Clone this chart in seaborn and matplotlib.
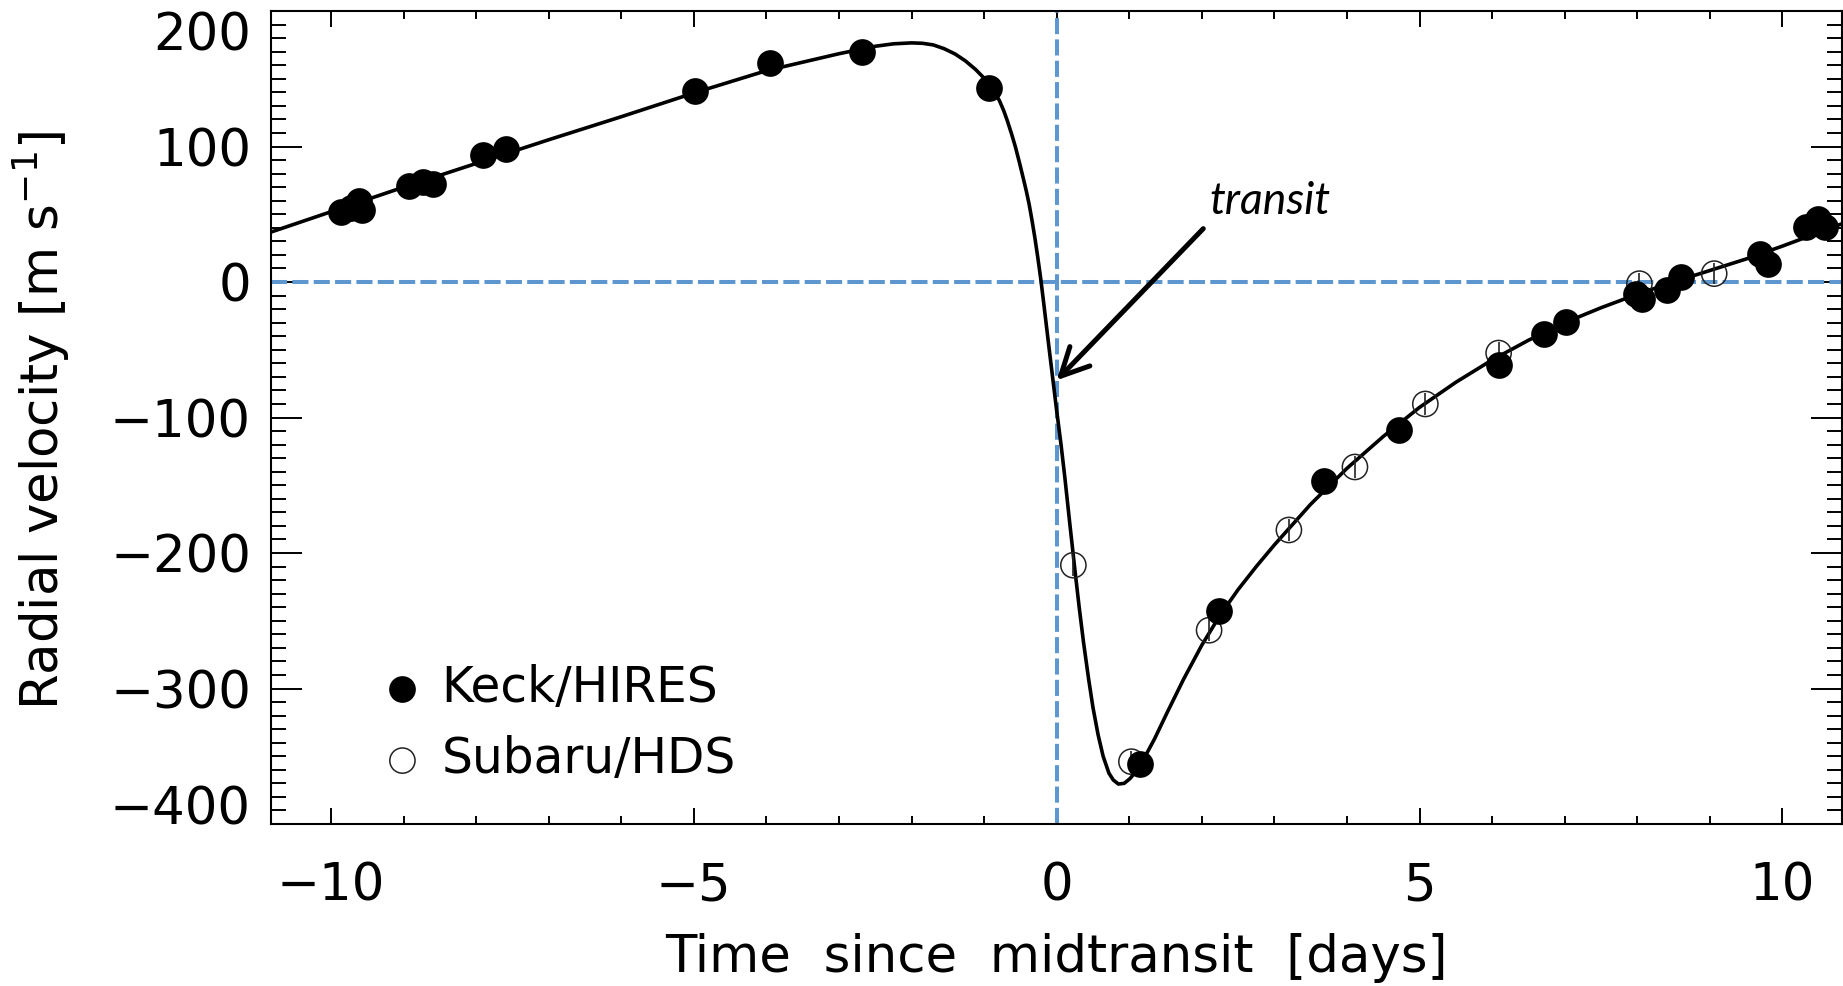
import matplotlib
matplotlib.use("Agg")
import matplotlib.pyplot as plt
from matplotlib.ticker import MultipleLocator
import seaborn as sns

# orbit model (days since midtransit, m/s)
model_t = [-10.82, -9.0, -7.0, -6.0, -5.0, -4.0, -3.0, -2.5, -2.25, -2.0, -1.85, -1.7,
           -1.55, -1.4, -1.26, -1.12, -1.0, -0.93, -0.86, -0.79, -0.73, -0.68, -0.62,
           -0.57, -0.51, -0.46, -0.42, -0.38, -0.34, -0.30, -0.26, -0.22, -0.18, -0.14,
           -0.10, -0.05, 0.0, 0.06, 0.114, 0.18, 0.25, 0.31, 0.37, 0.44, 0.50, 0.57,
           0.64, 0.72, 0.78, 0.85, 0.93, 1.01, 1.08, 1.15, 1.25, 1.35, 1.52, 1.75, 2.0,
           2.25, 2.5, 2.75, 3.0, 3.5, 4.0, 4.5, 5.0, 5.5, 6.0, 6.5, 7.0, 7.5, 8.0, 8.5,
           9.0, 9.5, 10.0, 10.5, 10.82]
model_rv = [37, 70, 105, 122, 139.5, 156, 168.5, 174, 175.8, 176.5, 176.2, 175,
            172.2, 168.3, 163.3, 157, 150.5, 145.5, 140, 134, 126.5, 119, 109,
            100, 87.5, 76.5, 67.5, 57.5, 45.5, 32.5, 18, 2.5, -15, -33,
            -51, -73, -95, -120, -145, -178, -212, -240, -266, -293, -314, -334,
            -350, -362.5, -367.5, -370.5, -370, -366.5, -362, -356, -347, -337, -318, -293, -268,
            -246, -227, -210, -194, -164, -137.5, -114, -92.5, -74, -57.5, -43, -30, -19, -9, 0,
            8.5, 17, 26.5, 36.5, 43]

# Keck/HIRES
keck_t = [-9.86, -9.72, -9.62, -9.57, -8.92, -8.73, -8.59, -7.91, -7.59, -4.99, -3.95,
          -2.68, -0.93, 1.15, 2.24, 3.68, 4.72, 6.09, 6.72, 7.02, 7.98, 8.06, 8.41, 8.60,
          9.69, 9.80, 10.32, 10.49, 10.59]
keck_rv = [52, 55, 60, 53, 70.6, 73.8, 72.6, 93.5, 98.4, 140.7, 161.6,
           169.7, 143.2, -356, -243, -147, -109.5, -61.5, -38.1, -29.5, -8.6, -12.3, -6.1, 3.7,
           21, 13.6, 40.6, 46.8, 40.6]

# Subaru/HDS
subaru_t = [0.23, 1.03, 2.10, 3.20, 4.11, 5.08, 6.09, 8.03, 9.06]
subaru_rv = [-209, -354, -257, -183, -136.5, -90, -52.4, -1.2, 6.2]
subaru_err = [8, 8, 8, 8, 8, 8, 8, 8, 8]

blue = "#5e97cf"

sns.set_theme(style="ticks")
plt.rcParams["font.family"] = ["DejaVu Sans"]
plt.rcParams["mathtext.fontset"] = "dejavusans"
plt.rcParams["text.color"] = "black"

fig = plt.figure(figsize=(18.43, 9.86), dpi=100)
ax = fig.add_axes([0.1473, 0.1643, 0.8521, 0.8245])

ax.axhline(0, color=blue, lw=2.9, dashes=(4, 1.3), zorder=2)
ax.axvline(0, color=blue, lw=2.9, dashes=(4, 1.3), zorder=2)

sns.lineplot(x=model_t, y=model_rv, ax=ax, color="black", lw=2.6,
             sort=False, estimator=None, legend=False, zorder=3)

ax.errorbar(subaru_t, subaru_rv, yerr=subaru_err, fmt="none", ecolor="#222222",
            elinewidth=1.2, capsize=0, zorder=4)
sns.scatterplot(x=subaru_t, y=subaru_rv, ax=ax, s=330, facecolor="none",
                edgecolor="#222222", linewidth=1.1, label="Subaru/HDS", zorder=5)
sns.scatterplot(x=keck_t, y=keck_rv, ax=ax, s=370, color="black",
                edgecolor="black", linewidth=0, label="Keck/HIRES", zorder=6)

ax.annotate("", xy=(0.0, -72.5), xytext=(2.02, 39.4),
            arrowprops=dict(arrowstyle="->,head_length=1.0,head_width=0.5",
                            color="black", lw=3.6, shrinkA=0, shrinkB=0,
                            mutation_scale=20), zorder=7)
ax.text(2.11, 50.5, "transit", fontsize=32, fontstyle="italic", color="black",
        family=["Lato", "DejaVu Sans"], ha="left", va="baseline")

ax.set_xlim(-10.82, 10.82)
ax.set_ylim(-400, 200)
ax.set_xticks([-10, -5, 0, 5, 10])
ax.xaxis.set_minor_locator(MultipleLocator(1))
ax.set_yticks([-400, -300, -200, -100, 0, 100, 200])
ax.yaxis.set_minor_locator(MultipleLocator(10))

ax.tick_params(which="both", direction="in", top=True, right=True,
               width=1.4, color="black", labelsize=37, labelcolor="black")
ax.tick_params(axis="x", which="major", length=11.5, pad=27)
ax.tick_params(axis="x", which="minor", length=5.8)
ax.tick_params(axis="y", which="major", length=22, pad=14.8)
ax.tick_params(axis="y", which="minor", length=11)
for s in ax.spines.values():
    s.set_color("black")
    s.set_linewidth(1.5)

yt = ax.yaxis.get_major_ticks()
yt[-1].label1.set_verticalalignment("top")
yt[0].label1.set_verticalalignment("baseline")

ax.set_xlabel("Time  since  midtransit  [days]", fontsize=37, color="black")
ax.set_ylabel(r"Radial velocity [m s$^{-1}$]", fontsize=37, color="black")
ax.xaxis.label.set_verticalalignment("baseline")
ax.yaxis.label.set_verticalalignment("baseline")
ax.xaxis.set_label_coords(0.5, -0.1817)
ax.yaxis.set_label_coords(-0.1351, 0.496)

h, l = ax.get_legend_handles_labels()
order = [l.index("Keck/HIRES"), l.index("Subaru/HDS")]
leg = ax.legend([h[i] for i in order], [l[i] for i in order], loc="lower left",
                bbox_to_anchor=(0.071, 0.05), frameon=False, fontsize=35,
                handletextpad=0.4, handlelength=0.8, labelspacing=0.49,
                borderpad=0, borderaxespad=0)
for t in leg.get_texts():
    t.set_color("black")

fig.savefig("out.png", dpi=100)
